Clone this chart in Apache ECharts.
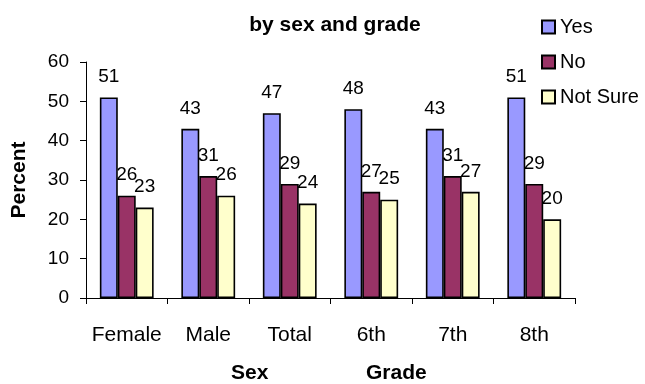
<!DOCTYPE html>
<html>
<head>
<meta charset="utf-8">
<script src="https://cdn.jsdelivr.net/npm/echarts@6/dist/echarts.min.js"></script>
<style>
  html, body { margin: 0; padding: 0; background: #fff; }
  #chart { width: 645px; height: 384px; }
</style>
</head>
<body>
<div id="chart"></div>
<script>
// Survey responses (percent) by sex and grade
const categories = ['Female', 'Male', 'Total', '6th', '7th', '8th'];
const yesValues = [51, 43, 47, 48, 43, 51];
const noValues = [26, 31, 29, 27, 31, 29];
const notSureValues = [23, 26, 24, 25, 27, 20];
const seriesNames = ['Yes', 'No', 'Not Sure'];
const seriesColors = ['#9999FF', '#993366', '#FFFFCC'];
const yTicks = { min: 0, max: 60, interval: 10 };

const FONT = "'Liberation Sans', Arial, sans-serif";

function barSeries(name, values, color) {
  return {
    name: name,
    type: 'bar',
    data: values,
    barGap: '0%',
    barCategoryGap: '34%',
    itemStyle: { color: color, borderColor: '#000', borderWidth: 1.6 },
    label: {
      show: true,
      position: 'top',
      distance: 11,
      color: '#000',
      fontFamily: FONT,
      fontSize: 19
    },
    emphasis: { disabled: true }
  };
}

const chart = echarts.init(document.getElementById('chart'), null, { renderer: 'canvas' });
chart.setOption({
  animation: false,
  backgroundColor: '#fff',
  textStyle: { fontFamily: FONT, color: '#000' },
  title: {
    text: 'by sex and grade',
    left: 330,
    top: 10,
    textAlign: 'center',
    textStyle: { fontFamily: FONT, fontSize: 21, fontWeight: 'bold', color: '#000' }
  },
  legend: {
    orient: 'vertical',
    left: 541,
    top: 16,
    padding: 0,
    itemWidth: 13,
    itemHeight: 13,
    itemGap: 13,
    icon: 'rect',
    itemStyle: { borderColor: '#000', borderWidth: 2 },
    textStyle: { fontFamily: FONT, fontSize: 20, color: '#000', lineHeight: 22 },
    data: seriesNames
  },
  grid: { left: 86, right: 70, top: 62, bottom: 86, containLabel: false },
  xAxis: {
    type: 'category',
    data: categories,
    axisLine: { lineStyle: { color: '#000', width: 1 } },
    axisTick: { show: true, length: 6, alignWithLabel: false, lineStyle: { color: '#000' } },
    axisLabel: { interval: 0, margin: 27, color: '#000', fontFamily: FONT, fontSize: 21 }
  },
  yAxis: {
    type: 'value',
    min: yTicks.min,
    max: yTicks.max,
    interval: yTicks.interval,
    name: 'Percent',
    nameLocation: 'middle',
    nameGap: 56,
    nameTextStyle: { fontFamily: FONT, fontSize: 21, fontWeight: 'bold', color: '#000' },
    axisLine: { show: true, lineStyle: { color: '#000', width: 1 } },
    axisTick: { show: true, length: 6, lineStyle: { color: '#000' } },
    splitLine: { show: false },
    axisLabel: { margin: 17, color: '#000', fontFamily: FONT, fontSize: 19 }
  },
  graphic: [
    { type: 'text', left: 231, top: 363,
      style: { text: 'Sex', fontFamily: FONT, fontSize: 21, fontWeight: 'bold', fill: '#000' } },
    { type: 'text', left: 366, top: 363,
      style: { text: 'Grade', fontFamily: FONT, fontSize: 21, fontWeight: 'bold', fill: '#000' } }
  ],
  series: [
    barSeries(seriesNames[0], yesValues, seriesColors[0]),
    barSeries(seriesNames[1], noValues, seriesColors[1]),
    barSeries(seriesNames[2], notSureValues, seriesColors[2])
  ]
});
</script>
</body>
</html>
